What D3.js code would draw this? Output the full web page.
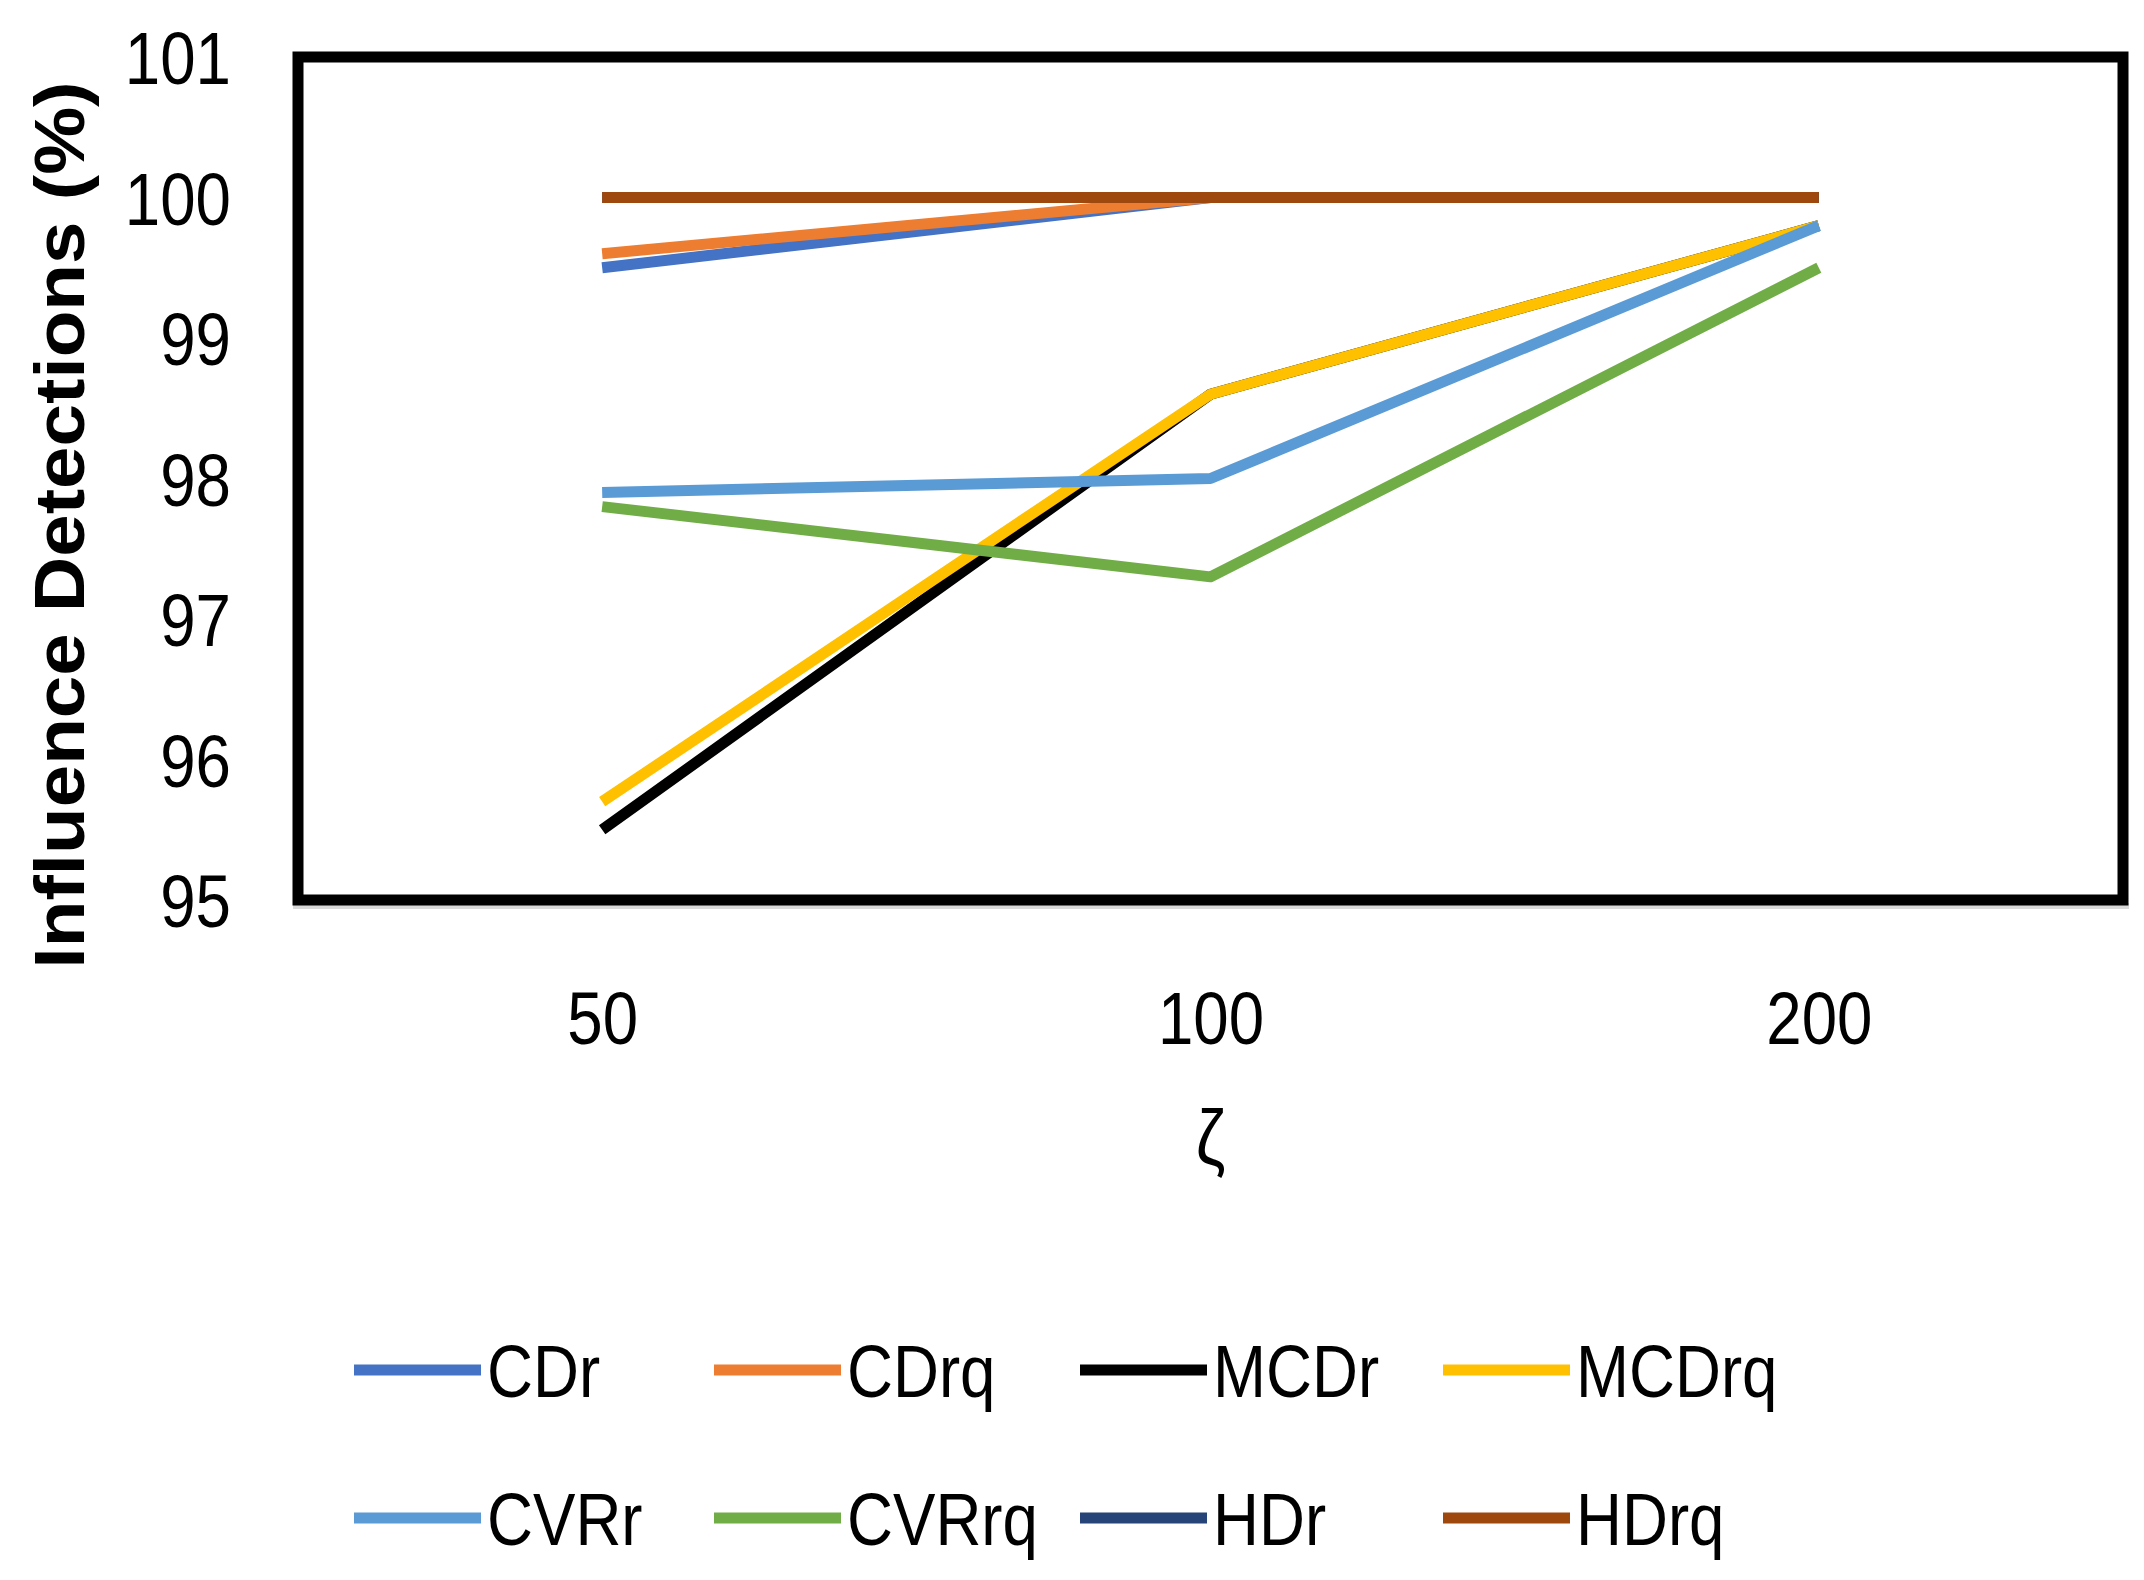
<!DOCTYPE html>
<html>
<head>
<meta charset="utf-8">
<script src="https://cdnjs.cloudflare.com/ajax/libs/d3/7.8.5/d3.min.js"></script>
<style>
body { margin: 0; background: #fff; }
text { font-family: "Liberation Sans", Arial, sans-serif; fill: #000; }
</style>
</head>
<body>
<div id="chart"></div>
<script>
var categories = ["50", "100", "200"]
var seriesNames = ["CDr", "CDrq", "MCDr", "MCDrq", "CVRr", "CVRrq", "HDr", "HDrq"]
var seriesColors = ["#4472C4", "#ED7D31", "#000000", "#FFC000", "#5B9BD5", "#70AD47", "#264478", "#9E480E"]

var CDr = [99.5, 100, 100]
var CDrq = [99.6, 100, 100]
var MCDr = [95.5, 98.6, 99.8]
var MCDrq = [95.7, 98.6, 99.8]
var CVRr = [97.9, 98.0, 99.8]
var CVRrq = [97.8, 97.3, 99.5]
var HDr = [100, 100, 100]
var HDrq = [100, 100, 100]

var yTicks = [95, 96, 97, 98, 99, 100, 101]

var seriesValues = [CDr, CDrq, MCDr, MCDrq, CVRr, CVRrq, HDr, HDrq]

function draw_chart(config) {

    var width = config.width || 2144
    var height = config.height || 1580
    var placeholder = config.placeholder

    var plot_left = 298, plot_right = 2123
    var plot_top = 57, plot_bottom = 900
    var squeeze = 0.86

    var svg = d3.select(placeholder).append("svg")
        .attr("width", width)
        .attr("height", height)
        .style("display", "block");

    svg.append("rect")
        .attr("width", width).attr("height", height)
        .attr("fill", "#fff");

    var x = d3.scalePoint()
        .domain(categories)
        .range([plot_left, plot_right])
        .padding(0.5);

    var y = d3.scaleLinear()
        .domain([95, 101])
        .range([plot_bottom, plot_top]);

    // grey axis line peeking out under the frame
    svg.append("line")
        .attr("x1", plot_left - 5).attr("x2", plot_right + 6)
        .attr("y1", plot_bottom + 6).attr("y2", plot_bottom + 6)
        .attr("stroke", "#d9d9d9").attr("stroke-width", 6);

    svg.append("rect")
        .attr("x", plot_left).attr("y", plot_top)
        .attr("width", plot_right - plot_left)
        .attr("height", plot_bottom - plot_top)
        .attr("fill", "none")
        .attr("stroke", "#000")
        .attr("stroke-width", 11);

    var yAxis = d3.axisLeft(y)
        .tickValues(yTicks)
        .tickFormat(d3.format("d"))
        .tickSize(0).tickPadding(0);
    var gy = svg.append("g").attr("transform", "translate(231,0)").call(yAxis);
    gy.select(".domain").remove();
    gy.selectAll("text")
        .attr("x", 0)
        .attr("dy", "0.36em")
        .attr("font-size", 74)
        .attr("transform", `scale(${squeeze},1)`);

    var xAxis = d3.axisBottom(x).tickSize(0).tickPadding(0);
    var gx = svg.append("g").attr("transform", "translate(0,1017)").call(xAxis);
    gx.select(".domain").remove();
    gx.selectAll("text")
        .attr("y", 0)
        .attr("dy", "0.36em")
        .attr("font-size", 74)
        .attr("transform", `scale(${squeeze},1)`);
    svg.selectAll(".tick text").attr("fill", "#000").style("font-family", "Liberation Sans, Arial, sans-serif");

    svg.append("text")
        .attr("transform", "translate(84,525) rotate(-90)")
        .attr("text-anchor", "middle")
        .attr("font-size", 70)
        .attr("font-weight", "bold")
        .attr("textLength", 887)
        .attr("lengthAdjust", "spacingAndGlyphs")
        .text("Influence Detections (%)");

    svg.append("text")
        .attr("transform", `translate(${x("100")},1142) scale(${squeeze},1)`)
        .attr("text-anchor", "middle")
        .attr("dy", "0.3em")
        .attr("font-size", 78)
        .text("ζ");

    var line = d3.line()
        .x(function (d, i) { return x(categories[i]) })
        .y(function (d) { return y(d) });

    svg.selectAll("path.series")
        .data(seriesValues)
        .enter().append("path")
        .attr("class", "series")
        .attr("d", line)
        .attr("fill", "none")
        .attr("stroke", function (d, i) { return seriesColors[i] })
        .attr("stroke-width", 11)
        .attr("stroke-linejoin", "round");

    var colX = [354, 714, 1080, 1443]
    var rowY = [1370, 1518]

    var legend = svg.selectAll("g.legend")
        .data(seriesNames)
        .enter().append("g")
        .attr("class", "legend")
        .attr("transform", function (d, i) {
            return `translate(${colX[i % 4]},${rowY[Math.floor(i / 4)]})`
        });

    legend.append("line")
        .attr("x1", 0).attr("x2", 127)
        .attr("stroke", function (d, i) { return seriesColors[i] })
        .attr("stroke-width", 11);

    legend.append("text")
        .attr("transform", `translate(133,0) scale(${squeeze},1)`)
        .attr("dy", "0.36em")
        .attr("font-size", 74)
        .text(function (d) { return d });
}

var config = {}
config.placeholder = '#chart'

draw_chart(config)
</script>
</body>
</html>
